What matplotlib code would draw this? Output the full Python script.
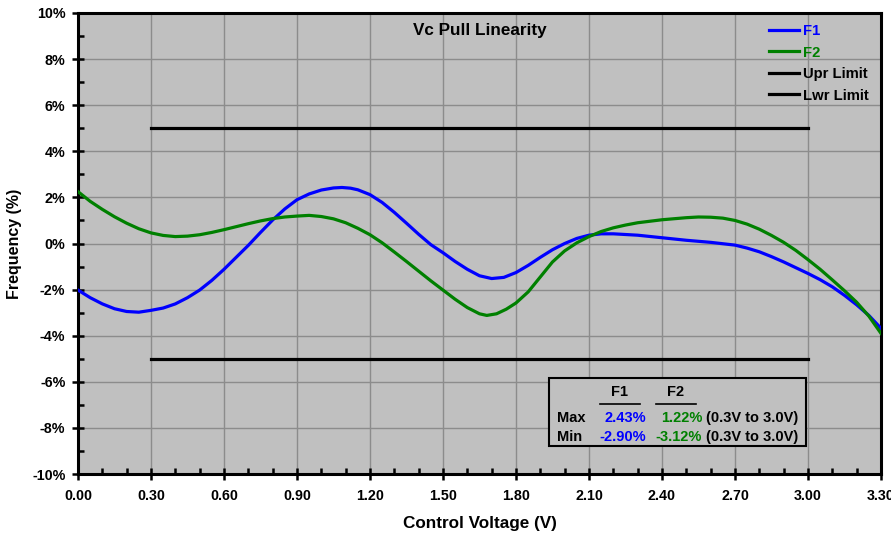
import matplotlib
matplotlib.use("Agg")
import matplotlib.pyplot as plt
from matplotlib.ticker import MultipleLocator, FuncFormatter

plt.rcParams['font.family'] = ['Liberation Sans', 'DejaVu Sans']
plt.rcParams['font.weight'] = 'bold'

# ---- data ----
f1_v = [0.00, 0.05, 0.10, 0.15, 0.20, 0.25, 0.30, 0.35, 0.40, 0.45, 0.50, 0.55, 0.60, 0.65,
        0.70, 0.75, 0.80, 0.85, 0.90, 0.95, 1.00, 1.05, 1.085, 1.12, 1.15, 1.20, 1.25, 1.30,
        1.35, 1.40, 1.45, 1.50, 1.55, 1.60, 1.65, 1.70, 1.75, 1.80, 1.85, 1.90, 1.95, 2.00,
        2.05, 2.10, 2.15, 2.20, 2.30, 2.40, 2.50, 2.60, 2.70, 2.75, 2.80, 2.85, 2.90, 2.95,
        3.00, 3.05, 3.10, 3.15, 3.20, 3.25, 3.30]
f1_pct = [-2.02, -2.35, -2.62, -2.83, -2.95, -2.98, -2.90, -2.80, -2.62, -2.35, -2.02, -1.60,
          -1.12, -0.60, -0.08, 0.48, 1.02, 1.50, 1.90, 2.15, 2.32, 2.41, 2.43, 2.40, 2.33, 2.12,
          1.78, 1.35, 0.88, 0.40, -0.05, -0.40, -0.78, -1.12, -1.40, -1.52, -1.47, -1.26, -0.95,
          -0.60, -0.27, 0.00, 0.22, 0.36, 0.42, 0.42, 0.36, 0.25, 0.14, 0.05, -0.07, -0.20,
          -0.36, -0.57, -0.80, -1.05, -1.30, -1.57, -1.88, -2.25, -2.66, -3.12, -3.68]

f2_v = [0.00, 0.05, 0.10, 0.15, 0.20, 0.25, 0.30, 0.35, 0.40, 0.45, 0.50, 0.55, 0.60, 0.65,
        0.70, 0.75, 0.80, 0.85, 0.90, 0.95, 1.00, 1.05, 1.10, 1.15, 1.20, 1.25, 1.30, 1.35,
        1.40, 1.45, 1.50, 1.55, 1.60, 1.65, 1.68, 1.72, 1.76, 1.80, 1.85, 1.90, 1.95, 2.00,
        2.05, 2.10, 2.15, 2.20, 2.25, 2.30, 2.40, 2.50, 2.55, 2.60, 2.65, 2.70, 2.75, 2.80,
        2.85, 2.90, 2.95, 3.00, 3.05, 3.10, 3.15, 3.20, 3.25, 3.30]
f2_pct = [2.25, 1.83, 1.48, 1.16, 0.88, 0.64, 0.46, 0.35, 0.30, 0.32, 0.38, 0.48, 0.60, 0.73,
          0.86, 0.98, 1.08, 1.15, 1.19, 1.22, 1.17, 1.07, 0.90, 0.66, 0.38, 0.03, -0.37, -0.78,
          -1.20, -1.62, -2.02, -2.42, -2.78, -3.05, -3.12, -3.05, -2.85, -2.58, -2.10, -1.45,
          -0.80, -0.32, 0.03, 0.30, 0.52, 0.68, 0.80, 0.90, 1.03, 1.12, 1.15, 1.14, 1.10, 1.00,
          0.84, 0.62, 0.35, 0.05, -0.30, -0.70, -1.12, -1.58, -2.05, -2.55, -3.15, -3.90]

limit_v = [0.30, 3.00]
upr_limit = [5.0, 5.0]
lwr_limit = [-5.0, -5.0]

stat_cols = ["F1", "F2"]
stat_max = ["2.43%", "1.22%"]
stat_min = ["-2.90%", "-3.12%"]
stat_range = "(0.3V to 3.0V)"

x_ticks = [0.0, 0.3, 0.6, 0.9, 1.2, 1.5, 1.8, 2.1, 2.4, 2.7, 3.0, 3.3]
y_ticks = [-10, -8, -6, -4, -2, 0, 2, 4, 6, 8, 10]

BLUE = '#0000FF'
GREEN = '#008000'

fig = plt.figure(figsize=(8.91, 5.44), dpi=100)
ax = fig.add_axes([78/891, 70/544, 803/891, 461/544])
ax.set_facecolor('#C0C0C0')

ax.plot(f1_v, f1_pct, color=BLUE, lw=2.3, label='F1', zorder=4, solid_joinstyle='round')
ax.plot(f2_v, f2_pct, color=GREEN, lw=2.3, label='F2', zorder=4, solid_joinstyle='round')
ax.plot(limit_v, upr_limit, color='black', lw=2.3, label='Upr Limit', zorder=3)
ax.plot(limit_v, lwr_limit, color='black', lw=2.3, label='Lwr Limit', zorder=3)

ax.set_xlim(0, 3.3)
ax.set_ylim(-10, 10)
ax.set_xticks(x_ticks)
ax.set_yticks(y_ticks)
ax.xaxis.set_minor_locator(MultipleLocator(0.1))
ax.yaxis.set_minor_locator(MultipleLocator(1))
ax.xaxis.set_major_formatter(FuncFormatter(lambda v, p: f"{v:.2f}"))
ax.yaxis.set_major_formatter(FuncFormatter(lambda v, p: f"{v:.0f}%"))
ax.grid(True, which='major', color='#8C8C8C', lw=1.0, zorder=0)
ax.set_axisbelow(True)

ax.tick_params(which='major', direction='inout', length=8, width=1.8, labelsize=10.3, pad=5)
ax.tick_params(axis='x', which='major', pad=7)
ax.tick_params(which='minor', direction='in', length=4, width=1.8)
ax.tick_params(top=False, right=False)
for lab in ax.get_xticklabels() + ax.get_yticklabels():
    lab.set_fontweight('bold')
for s in ax.spines.values():
    s.set_linewidth(2.2)
    s.set_color('black')

ax.set_xlabel('Control Voltage (V)', fontsize=12.3, fontweight='bold', labelpad=9)
ax.set_ylabel('Frequency (%)', fontsize=11.5, fontweight='bold', labelpad=7)

ax.text(0.5, 0.963, 'Vc Pull Linearity', transform=ax.transAxes, ha='center', va='center',
        fontsize=12.3, fontweight='bold')

leg = ax.legend(loc='upper left', bbox_to_anchor=(0.8495, 0.995), frameon=False,
                handlelength=2.0, handletextpad=0.3, labelspacing=0.5, fontsize=10.7,
                borderaxespad=0.2)
for t, c in zip(leg.get_texts(), [BLUE, GREEN, 'black', 'black']):
    t.set_color(c)
    t.set_fontweight('bold')

# ---- statistics box ----
box_x0, box_x1 = 1.936, 2.99
box_y0, box_y1 = -8.79, -5.83
ax.add_patch(plt.Rectangle((box_x0, box_y0), box_x1 - box_x0, box_y1 - box_y0,
                           facecolor='#C0C0C0', edgecolor='black', lw=1.5, zorder=5))

def px2v(px):
    return (px - 78) / 803 * 3.3

def py2p(py):
    return (243.5 - py) / 23.05

col_cx = [px2v(620), px2v(676)]
col_half = px2v(98) - px2v(78)
col_right = [px2v(646), px2v(702)]
col_colors = [BLUE, GREEN]
FS = 10.5
for i in range(2):
    ax.text(col_cx[i], py2p(392), stat_cols[i], ha='center', va='center', fontsize=FS,
            fontweight='bold', zorder=6)
    ax.plot([col_cx[i] - col_half, col_cx[i] + col_half],
            [py2p(404), py2p(404)], color='black', lw=1.2, zorder=6)
    ax.text(col_right[i], py2p(418), stat_max[i], ha='right', va='center', fontsize=FS,
            fontweight='bold', color=col_colors[i], zorder=6)
    ax.text(col_right[i], py2p(437), stat_min[i], ha='right', va='center', fontsize=FS,
            fontweight='bold', color=col_colors[i], zorder=6)
ax.text(px2v(557), py2p(418), 'Max', ha='left', va='center', fontsize=FS, fontweight='bold', zorder=6)
ax.text(px2v(557), py2p(437), 'Min', ha='left', va='center', fontsize=FS, fontweight='bold', zorder=6)
ax.text(px2v(706), py2p(418), stat_range, ha='left', va='center', fontsize=FS, fontweight='bold', zorder=6)
ax.text(px2v(706), py2p(437), stat_range, ha='left', va='center', fontsize=FS, fontweight='bold', zorder=6)

fig.savefig('out.png', dpi=100)
